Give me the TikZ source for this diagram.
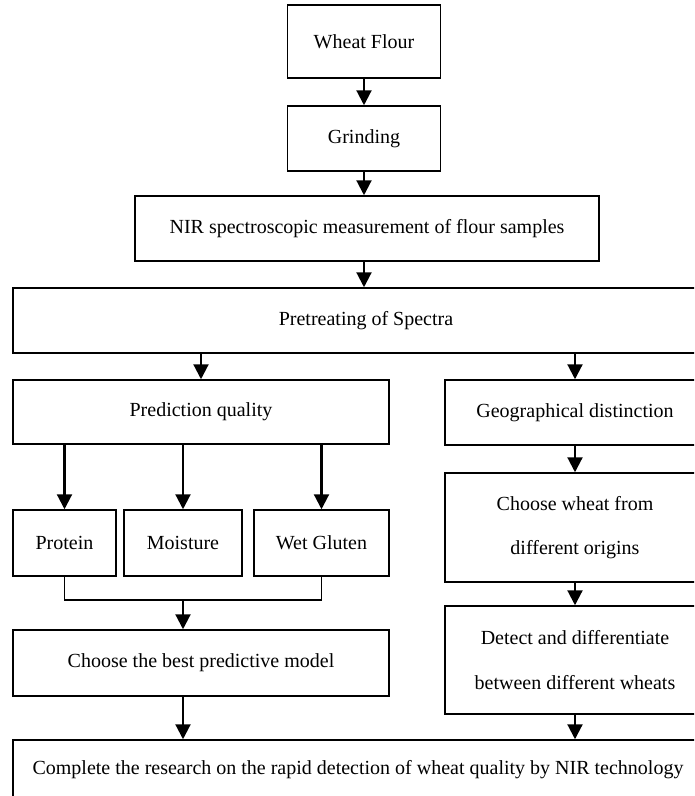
\documentclass[tikz,border=0pt]{standalone}
\usepackage{fontspec}
\setmainfont{Liberation Serif}
\usepackage{tikz}
\usetikzlibrary{positioning}
\usetikzlibrary{arrows.meta}
\usetikzlibrary{calc}

\begin{document}
\begin{tikzpicture}[x=0.6pt, y=-0.6pt,
        box/.style={draw, rectangle, line width=0.9pt, inner sep=0pt, align=center,
            font=\fontsize{12}{14.5}\selectfont},
        arr/.style={line width=1.3pt, -{Triangle[length=9pt, width=9pt]}}]
            \useasboundingbox (0, 0) rectangle (694, 796);
            \clip (0, 0) rectangle (694, 796);

            \node[box, minimum width=91.8pt, minimum height=43.8pt] (wf) at (364, 41.5) {Wheat Flour};
            \node[box, minimum width=91.8pt, minimum height=39pt] (gr) at (364, 138.5) {Grinding};
            \node[box, minimum width=278.4pt, minimum height=39pt] (nir) at (367, 228.5) {NIR spectroscopic measurement of flour samples};
            \node[box, minimum width=423.6pt, minimum height=39pt] (pre) at (366, 320.5) {Pretreating of Spectra};
            \node[box, minimum width=225.6pt, minimum height=38.4pt] (pq) at (201, 412) {Prediction quality};
            \node[box, minimum width=156pt, minimum height=39pt] (gd) at (575, 412.5) {Geographical distinction};
            \node[box, minimum width=61.8pt, minimum height=39.6pt] (pr) at (64.5, 543) {Protein};
            \node[box, minimum width=70.8pt, minimum height=39.6pt] (mo) at (183, 543) {Moisture};
            \node[box, minimum width=81pt, minimum height=39.6pt] (wg) at (321.5, 543) {Wet Gluten};
            \node[box, minimum width=156pt, minimum height=65.4pt] (cw) at (575, 527.5) {Choose wheat from\\[12pt]different origins};
            \node[box, minimum width=156pt, minimum height=64.8pt] (dd) at (575, 660) {Detect and differentiate\\[12pt]between different wheats};
            \node[box, minimum width=225.6pt, minimum height=39.6pt] (best) at (201, 663) {Choose the best predictive model};
            \node[box, minimum width=414pt, minimum height=36pt] (fin) at (358, 770) {Complete the research on the rapid detection of wheat quality by NIR technology};
            \coordinate (j) at (183, 600);

            \draw[arr] (wf) edge (gr);
            \draw[arr] (gr.south) -- (gr.south |- nir.north);
            \draw[arr] (nir.south -| gr.south) -- (gr.south |- pre.north);
            \draw[arr] (pq.north |- pre.south) -- (pq.north);
            \draw[arr] (gd.north |- pre.south) -- (gd.north);
            \draw[arr] (pr.north |- pq.south) -- (pr.north);
            \draw[arr] (mo.north |- pq.south) -- (mo.north);
            \draw[arr] (wg.north |- pq.south) -- (wg.north);
            \draw[line width=0.9pt] (pr.south) |- (j) -| (wg.south);
            \draw[arr] (j) -- (j |- best.north);
            \draw[arr] (j |- best.south) -- (j |- fin.north);
            \draw[arr] (gd) edge (cw);
            \draw[arr] (cw) edge (dd);
            \draw[arr] (dd.south) -- (dd.south |- fin.north);
        \end{tikzpicture}
\end{document}
